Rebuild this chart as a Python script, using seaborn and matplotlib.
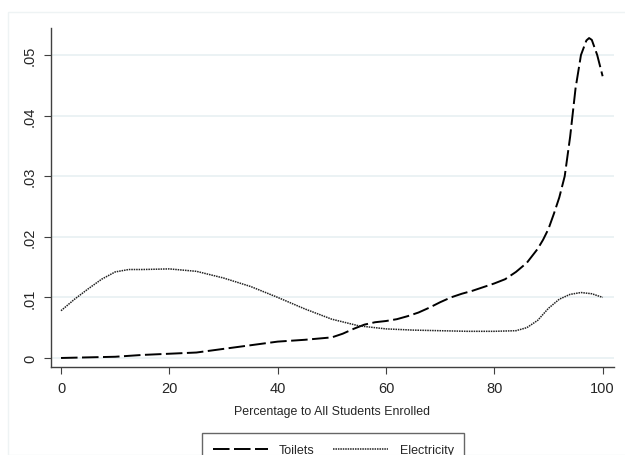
import matplotlib
matplotlib.use("Agg")
import matplotlib.pyplot as plt
import seaborn as sns
import pandas as pd
from matplotlib.patches import Rectangle

x_toilets = [0, 5, 10, 15, 20, 25, 30, 35, 40, 45, 50, 52, 54, 56, 58, 60, 62, 64, 66, 68,
             70, 72, 74, 76, 78, 80, 82, 84, 86, 88, 89, 90, 91, 92, 93, 94, 95, 96, 97, 97.5,
             98, 99, 100]
toilets = [0.0, 0.0001, 0.0002, 0.0005, 0.0007, 0.0009, 0.0015, 0.0021, 0.0027, 0.0030,
           0.0034, 0.0040, 0.0048, 0.0055, 0.0059, 0.0061, 0.0064, 0.0069, 0.0075, 0.0083,
           0.0092, 0.0100, 0.0106, 0.0111, 0.0117, 0.0123, 0.0130, 0.0142, 0.0157, 0.0180,
           0.0195, 0.0213, 0.0238, 0.0265, 0.0300, 0.0365, 0.0445, 0.0500, 0.0524, 0.0528,
           0.0525, 0.0500, 0.0465]

x_elec = [0, 2.5, 5, 7.5, 10, 12.5, 15, 20, 25, 30, 35, 40, 45, 50, 55, 60, 65, 70, 75, 80,
          84, 86, 88, 90, 92, 94, 96, 98, 100]
electricity = [0.0078, 0.0097, 0.0114, 0.0130, 0.0142, 0.0146, 0.0146, 0.0147, 0.0143,
               0.0132, 0.0118, 0.0100, 0.0081, 0.0064, 0.0053, 0.0048, 0.0046, 0.0045,
               0.0044, 0.0044, 0.0045, 0.0050, 0.0062, 0.0082, 0.0097, 0.0105, 0.0108,
               0.0106, 0.0100]

x_ticks = [0, 20, 40, 60, 80, 100]
y_ticks = [0, 0.01, 0.02, 0.03, 0.04, 0.05]
y_tick_labels = ["0", ".01", ".02", ".03", ".04", ".05"]
x_label = "Percentage to All Students Enrolled"
series_names = ["Toilets", "Electricity"]

sns.set_theme(style="white")
plt.rcParams["font.family"] = ["Liberation Sans", "DejaVu Sans"]

fig = plt.figure(figsize=(6.25, 4.56), dpi=100)
fig.patch.set_facecolor("white")
fig.patches.append(Rectangle((8 / 625, 0), 1, 1 - 13 / 456, transform=fig.transFigure,
                             fill=False, edgecolor="#eef3f4", linewidth=1.0))
ax = fig.add_axes([51 / 625, 1 - 368 / 456, (614 - 51) / 625, (368 - 29) / 456])

df_t = pd.DataFrame({"x": x_toilets, "y": toilets})
df_e = pd.DataFrame({"x": x_elec, "y": electricity})

sns.lineplot(data=df_t, x="x", y="y", ax=ax, color="black", linewidth=1.4,
             linestyle=(0, (8.5, 2.3)), label=series_names[0], legend=False)
sns.lineplot(data=df_e, x="x", y="y", ax=ax, color="#222222", linewidth=1.1,
             linestyle=(0, (1, 0.6)), label=series_names[1], legend=False)

ax.set_xlim(-1.85, 102.1)
ax.set_ylim(-0.00149, 0.05446)
ax.set_xticks(x_ticks)
ax.set_xticklabels([str(v) for v in x_ticks], fontsize=10.5)
ax.set_yticks(y_ticks)
ax.set_yticklabels(y_tick_labels, fontsize=10.5, rotation=90, va="center")
ax.set_xlabel(x_label, fontsize=8.9, labelpad=7)
ax.set_ylabel("")

for yv in y_ticks:
    ax.axhline(yv, color="#e8f0f2", linewidth=1.2, zorder=0)

for s in ["top", "right"]:
    ax.spines[s].set_visible(False)
for s in ["left", "bottom"]:
    ax.spines[s].set_color("#404040")
    ax.spines[s].set_linewidth(1.0)
ax.tick_params(axis="x", which="major", direction="out", length=5, width=0.8,
               color="#404040", bottom=True, pad=5)
ax.tick_params(axis="y", which="major", direction="out", length=5, width=0.8,
               color="#404040", left=True, pad=5)

handles, labels = ax.get_legend_handles_labels()
leg = fig.legend(handles, labels, loc="upper center", bbox_to_anchor=(333 / 625, 1 - 428 / 456),
                 ncol=2, frameon=True, fontsize=9, handlelength=4.4, columnspacing=1.5,
                 handletextpad=0.9, borderpad=0.85, fancybox=False, edgecolor="#404040")
leg.get_frame().set_linewidth(1.0)

fig.savefig("out.png", dpi=100)
